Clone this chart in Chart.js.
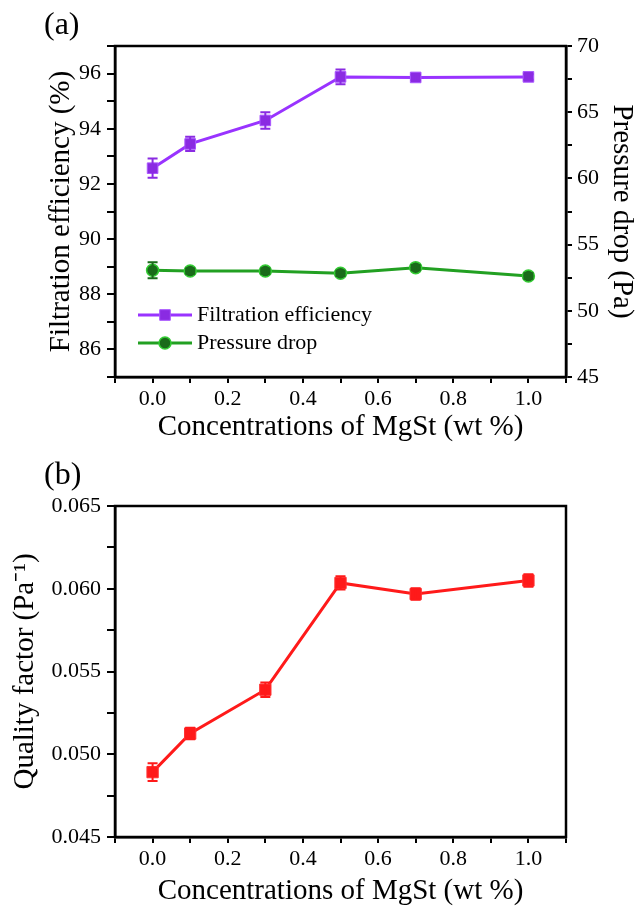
<!DOCTYPE html>
<html>
<head>
<meta charset="utf-8">
<script src="https://cdn.jsdelivr.net/npm/chart.js@4.4.0/dist/chart.umd.min.js"></script>
<style>
  body { margin: 0; background: #fff; }
  canvas { display: block; }
</style>
</head>
<body>
<canvas id="chart-a" width="642" height="455"></canvas>
<canvas id="chart-b" width="642" height="454"></canvas>
<script>
// data
var concentrations = [0, 0.1, 0.3, 0.5, 0.7, 1.0];
var filtrationEfficiency = [92.57, 93.45, 94.3, 95.88, 95.86, 95.88];
var filtrationError = [0.35, 0.26, 0.3, 0.27, 0.1, 0.1];
var pressureDrop = [53.06, 53.0, 53.0, 52.83, 53.26, 52.63];
var pressureError = [0.6, 0.2, 0.2, 0.2, 0.2, 0.2];
var qualityFactor = [0.04892, 0.05125, 0.0539, 0.06035, 0.05968, 0.0605];
var qualityError = [0.00054, 0.00035, 0.00044, 0.0004, 0.00035, 0.00038];

var FONT = '"Liberation Serif", "Times New Roman", serif';

function points(ys) {
    return concentrations.map(function(x, i) { return {x: x, y: ys[i]}; });
}

function marker(ctx, ds, x, y) {
    ctx.fillStyle = ds.pointBackgroundColor;
    ctx.strokeStyle = ds.pointBorderColor;
    ctx.lineWidth = ds.pointBorderWidth;
    ctx.beginPath();
    if (ds.pointStyle === 'rect') {
        var s = ds.pointRadius * Math.SQRT1_2;
        ctx.rect(x - s, y - s, 2 * s, 2 * s);
    } else {
        ctx.arc(x, y, ds.pointRadius, 0, Math.PI * 2);
    }
    ctx.fill();
    ctx.stroke();
}

var frame = {
    id: 'frame',
    beforeDatasetsDraw: function(chart) {
        var a = chart.chartArea, ctx = chart.ctx;
        ctx.save();
        ctx.strokeStyle = '#000';
        ctx.lineWidth = 2.5;
        ctx.strokeRect(a.left, a.top, a.right - a.left, a.bottom - a.top);
        ctx.restore();
    }
};

var errorBars = {
    id: 'errorBars',
    afterDatasetsDraw: function(chart) {
        var ctx = chart.ctx;
        chart.data.datasets.forEach(function(ds, i) {
            if (!ds.errors) return;
            var meta = chart.getDatasetMeta(i);
            var xs = chart.scales[meta.xAxisID], ys = chart.scales[meta.yAxisID];
            ctx.save();
            ctx.strokeStyle = ds.pointBackgroundColor;
            ctx.lineWidth = 2;
            ds.data.forEach(function(p, j) {
                var x = xs.getPixelForValue(p.x);
                var y1 = ys.getPixelForValue(p.y + ds.errors[j]);
                var y2 = ys.getPixelForValue(p.y - ds.errors[j]);
                ctx.beginPath();
                ctx.moveTo(x, y1); ctx.lineTo(x, y2);
                ctx.moveTo(x - 5, y1); ctx.lineTo(x + 5, y1);
                ctx.moveTo(x - 5, y2); ctx.lineTo(x + 5, y2);
                ctx.stroke();
            });
            ctx.restore();
        });
    }
};

var panelLabel = {
    id: 'panelLabel',
    afterDraw: function(chart, args, opts) {
        var ctx = chart.ctx;
        ctx.save();
        ctx.fillStyle = '#000';
        ctx.font = '32px ' + FONT;
        ctx.textBaseline = 'middle';
        ctx.fillText(opts.text, 44, opts.y);
        ctx.restore();
    }
};

var legendBox = {
    id: 'legendBox',
    afterDatasetsDraw: function(chart) {
        var ctx = chart.ctx, a = chart.chartArea;
        chart.data.datasets.forEach(function(ds, i) {
            var x0 = a.left + 23, y = a.bottom - 62 + i * 28;
            ctx.save();
            ctx.strokeStyle = ds.borderColor;
            ctx.lineWidth = ds.borderWidth;
            ctx.beginPath();
            ctx.moveTo(x0, y); ctx.lineTo(x0 + 54, y);
            ctx.stroke();
            marker(ctx, ds, x0 + 27, y);
            ctx.fillStyle = '#000';
            ctx.font = '22px ' + FONT;
            ctx.textBaseline = 'middle';
            ctx.fillText(ds.label, x0 + 59, y);
            ctx.restore();
        });
    }
};

function xAxis(h, titlePad) {
    return {
        type: 'linear', min: -0.1, max: 1.1,
        ticks: {
            stepSize: 0.1, autoSkip: false, maxRotation: 0, padding: 3,
            color: '#000', font: {family: FONT, size: 22},
            callback: function(v) {
                var k = Math.round(v * 10);
                return (k >= 0 && k <= 10 && k % 2 === 0) ? (k / 10).toFixed(1) : '';
            }
        },
        grid: {drawOnChartArea: false, color: '#000', lineWidth: 2, tickLength: 6},
        border: {color: '#000', width: 2.5},
        title: {display: true, text: 'Concentrations of MgSt (wt %)', color: '#000',
                font: {family: FONT, size: 29}, padding: {top: 0, bottom: titlePad}},
        afterFit: function(s) { s.height = h; }
    };
}

function yAxis(pos, min, max, step, label, title, w, titlePad) {
    return {
        type: 'linear', position: pos, min: min, max: max,
        ticks: {
            stepSize: step, autoSkip: false, padding: pos === 'left' ? 6 : 5,
            color: '#000', font: {family: FONT, size: 22},
            callback: label
        },
        grid: {drawOnChartArea: false, color: '#000', lineWidth: 2, tickLength: pos === 'left' ? 8 : 6},
        border: {color: '#000', width: 2.5},
        title: {display: true, text: title, color: '#000',
                font: {family: FONT, size: 29}, padding: {top: titlePad, bottom: 0}},
        afterFit: function(s) { s.width = w; }
    };
}

new Chart(document.getElementById('chart-a').getContext('2d'), {
    type: 'line',
    data: {
        datasets: [{
            label: 'Filtration efficiency',
            data: points(filtrationEfficiency),
            errors: filtrationError,
            yAxisID: 'yL',
            borderColor: '#9933ff', borderWidth: 3,
            pointStyle: 'rect', pointRadius: 7.5,
            pointBackgroundColor: '#8a2be2', pointBorderColor: '#a855ff', pointBorderWidth: 1
        }, {
            label: 'Pressure drop',
            data: points(pressureDrop),
            errors: pressureError,
            yAxisID: 'yR',
            borderColor: '#22a022', borderWidth: 3,
            pointStyle: 'circle', pointRadius: 6,
            pointBackgroundColor: '#1a6b1a', pointBorderColor: '#33cc33', pointBorderWidth: 1.5
        }]
    },
    options: {
        responsive: false, animation: false, events: [],
        layout: {padding: {top: 46, left: 0, right: 0, bottom: 0}},
        scales: {
            x: xAxis(78, 10),
            yL: yAxis('left', 85, 97, 1, function(v) {
                return Math.round(v) % 2 === 0 ? String(Math.round(v)) : '';
            }, 'Filtration efficiency (%)', 115, 44),
            yR: yAxis('right', 45, 70, 2.5, function(v) {
                return Math.round(v / 2.5) % 2 === 0 ? String(Math.round(v)) : '';
            }, 'Pressure drop (Pa)', 76, 3)
        },
        plugins: {
            legend: {display: false}, tooltip: {enabled: false},
            panelLabel: {text: '(a)', y: 26}
        }
    },
    plugins: [frame, errorBars, legendBox, panelLabel]
});

new Chart(document.getElementById('chart-b').getContext('2d'), {
    type: 'line',
    data: {
        datasets: [{
            label: 'Quality factor',
            data: points(qualityFactor),
            errors: qualityError,
            yAxisID: 'y',
            borderColor: '#ff1a1a', borderWidth: 3,
            pointStyle: 'rect', pointRadius: 8,
            pointBackgroundColor: '#ff1a1a', pointBorderColor: '#ff3333', pointBorderWidth: 1
        }]
    },
    options: {
        responsive: false, animation: false, events: [],
        layout: {padding: {top: 51, left: 0, right: 76, bottom: 0}},
        scales: {
            x: xAxis(72, 0),
            y: yAxis('left', 0.045, 0.065, 0.0025, function(v) {
                return Math.round(v / 0.0025) % 2 === 0 ? v.toFixed(3) : '';
            }, 'Quality factor (Pa\u207B\u00B9)', 115, 8)
        },
        plugins: {
            legend: {display: false}, tooltip: {enabled: false},
            panelLabel: {text: '(b)', y: 21}
        }
    },
    plugins: [frame, errorBars, panelLabel]
});
</script>
</body>
</html>
